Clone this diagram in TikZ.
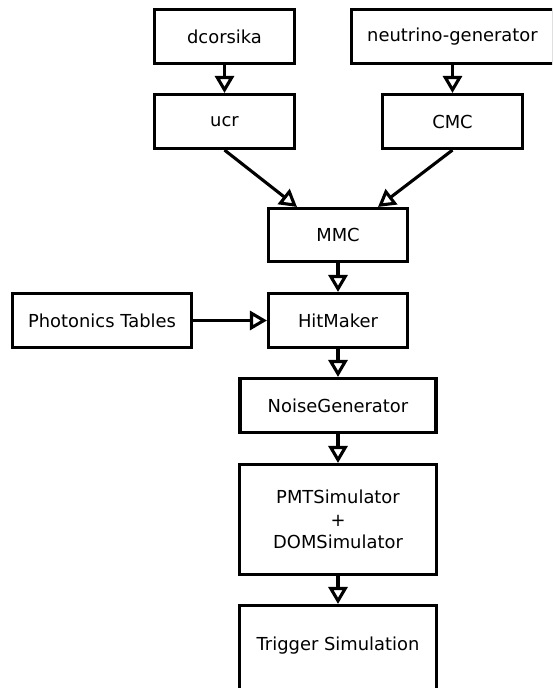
\documentclass[tikz,border=0pt]{standalone}
\usepackage{fontspec}
\setmainfont{DejaVu Sans}
\usetikzlibrary{arrows.meta}
\begin{document}
\begin{tikzpicture}[x=1pt,y=-1pt,
  box/.style={draw, line width=3.1pt, rectangle, inner sep=0pt,
    font=\fontsize{17.9}{22.5}\selectfont, align=center},
  flow/.style={line width=3.1pt, -{Triangle[open,length=17pt,width=19pt]}}]
\useasboundingbox (0,0) rectangle (552,688);
\clip (0,0) rectangle (552,688);
\node[box, minimum width=140pt, minimum height=54pt] (dc) at (224.5,36.5) {dcorsika};
\node[box, minimum width=202pt, minimum height=54pt] (ng) at (452.5,36.5) {neutrino-generator};
\node[box, minimum width=140pt, minimum height=54pt] (ucr) at (224.5,121.5) {ucr};
\node[box, minimum width=140pt, minimum height=54pt] (cmc) at (452.5,121.5) {CMC};
\node[box, minimum width=139pt, minimum height=53pt] (mmc) at (338,235) {MMC};
\node[box, minimum width=179pt, minimum height=54pt] (pt) at (102,320.5) {Photonics Tables};
\node[box, minimum width=139pt, minimum height=54pt] (hm) at (338,320.5) {HitMaker};
\node[box, minimum width=196pt, minimum height=54pt] (noise) at (338,405.5) {NoiseGenerator};
\node[box, minimum width=197pt, minimum height=110pt] (pmt) at (338,519.5) {PMTSimulator\\+\\DOMSimulator};
\node[box, minimum width=197pt, minimum height=110pt] (trig) at (338,660.5) {\raisebox{10.5pt}[0pt][0pt]{Trigger Simulation}};
\draw[flow] (dc) -- (ucr);
\draw[flow] (ng) -- (cmc);
\draw[flow] (ucr.south) -- ([xshift=-41pt]mmc.north);
\draw[flow] (cmc.south) -- ([xshift=40pt]mmc.north);
\draw[flow] (mmc) -- (hm);
\draw[flow] (pt) -- (hm);
\draw[flow] (hm) -- (noise);
\draw[flow] (noise) -- (pmt);
\draw[flow] (pmt) -- (trig);
\end{tikzpicture}
\end{document}
